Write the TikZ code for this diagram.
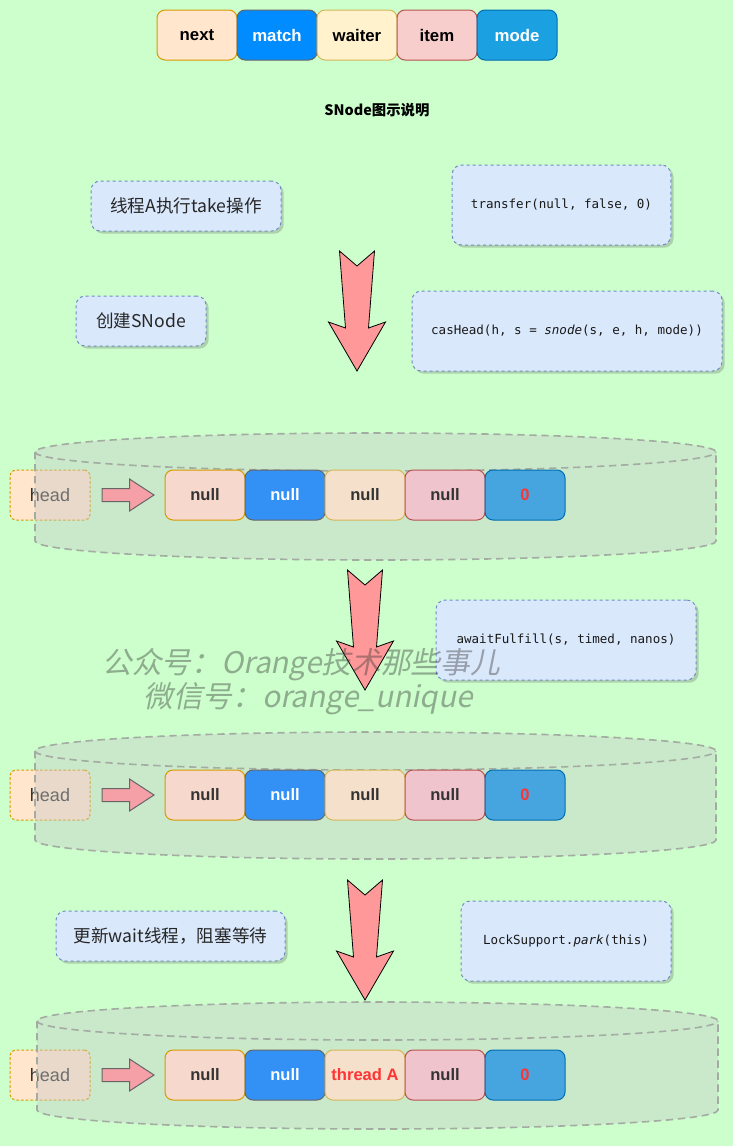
\documentclass[tikz,border=0pt]{standalone}
\usepackage{fontspec}
\setmainfont{Liberation Sans}
\newfontfamily\cjk{Noto Sans CJK SC}
\newfontfamily\cjkwm{Noto Sans CJK SC}[FakeSlant=0.2]
\newfontfamily\codefont{DejaVu Sans Mono}
\usetikzlibrary{shadows}
\definecolor{bg}{HTML}{CCFFCC}
\definecolor{nextF}{HTML}{FFE6CC}\definecolor{nextS}{HTML}{D79B00}
\definecolor{matchF}{HTML}{008CFF}\definecolor{matchS}{HTML}{666666}
\definecolor{waitF}{HTML}{FFF2CC}\definecolor{waitS}{HTML}{D6B656}
\definecolor{itemF}{HTML}{F8CECC}\definecolor{itemS}{HTML}{B85450}
\definecolor{modeF}{HTML}{1BA1E2}\definecolor{modeS}{HTML}{006EAF}
\definecolor{rnextF}{HTML}{F7D8CC}
\definecolor{rmatchF}{HTML}{3391F5}
\definecolor{rwaitF}{HTML}{F5E0CC}
\definecolor{ritemF}{HTML}{F0C4CC}
\definecolor{rmodeF}{HTML}{46A5DE}
\definecolor{infoF}{HTML}{DAE8FC}\definecolor{infoS}{HTML}{6C8EBF}
\definecolor{bigArr}{HTML}{FF9999}
\definecolor{smArr}{HTML}{F4A0A6}
\definecolor{cylS}{HTML}{A3ABA3}
\definecolor{txt}{HTML}{333333}
\definecolor{redtxt}{HTML}{FF3333}
\newcommand\fsz[1]{\fontsize{#1}{#1}\selectfont}
\tikzset{
  legendbox/.style={rounded corners=6pt, minimum width=60pt, minimum height=37.5pt, inner sep=0pt, line width=0.75pt, font=\fsz{12.6pt}\bfseries},
  rowbox/.style={rounded corners=6pt, minimum width=60pt, minimum height=37.5pt, inner sep=0pt, line width=0.75pt, font=\fsz{12.4pt}\bfseries, text=txt},
  headbox/.style={rounded corners=4pt, minimum width=60pt, minimum height=37.5pt, inner sep=0pt, fill=nextF, draw=nextS, line width=0.75pt, dash pattern=on 2pt off 1.5pt, text=txt, font=\fsz{13.5pt}},
  infobox/.style={rounded corners=7pt, fill=infoF, draw=infoS, line width=0.75pt, dash pattern=on 2.25pt off 2.25pt, inner sep=0pt, drop shadow={shadow xshift=2pt, shadow yshift=-2pt, opacity=0.3, fill=black!60}},
  cntext/.style={font=\cjk\fsz{13.2pt}, text=black!85},
  codetext/.style={font=\codefont\fsz{9.4pt}, text=black!90},
  bigarr/.style={fill=bigArr, draw=black, line width=0.6pt, line join=miter},
  smallarr/.style={fill=smArr, draw=black!60, line width=0.75pt},
  cylfill/.style={fill=black!22, fill opacity=0.4, draw=cylS, line width=1.2pt, dash pattern=on 5.5pt off 3.5pt},
  cylline/.style={draw=cylS, line width=1.2pt, dash pattern=on 5.5pt off 3.5pt},
  wm/.style={font=\cjkwm\fsz{22.3pt}, text=txt, text opacity=0.4, anchor=west, inner sep=0pt}
}
\newcommand\bigarrow[2]{%
  \draw[bigarr] ({#1-17.5},#2) -- (#1,{#2+15}) -- ({#1+17.5},#2) -- ({#1+11.5},{#2+77}) -- ({#1+28.5},{#2+71}) -- (#1,{#2+120}) -- ({#1-28.5},{#2+71}) -- ({#1-11.5},{#2+77}) -- cycle;}
\newcommand\smallarrow[1]{%
  \draw[smallarr] (102,{#1-6.5}) -- (129.5,{#1-6.5}) -- (129.5,{#1-16}) -- (154,#1) -- (129.5,{#1+16}) -- (129.5,{#1+6.5}) -- (102,{#1+6.5}) -- cycle;}
\newcommand\cylshape[4]{%
  \pgfmathsetmacro\rx{(#2-#1)/2}%
  \path[cylfill] (#1,#3) -- (#1,#4) arc[start angle=180,end angle=0,x radius=\rx,y radius=19] -- (#2,#3) arc[start angle=0,end angle=-180,x radius=\rx,y radius=19] -- cycle;
  \draw[cylline] (#1,#3) arc[start angle=180,end angle=0,x radius=\rx,y radius=19];}
\newcommand\noderow[5]{%
  \node[rowbox, fill=rnextF, draw=nextS] (#1next) at (205,#2) {null};
  \node[rowbox, fill=rmatchF, draw=matchS, text=white] (#1match) at (285,#2) {null};
  \node[rowbox, fill=rwaitF, draw=waitS, text=#4] (#1wait) at (365,#2) {#3};
  \node[rowbox, fill=ritemF, draw=itemS] (#1item) at (445,#2) {null};
  \node[rowbox, fill=rmodeF, draw=modeS, text=redtxt] (#1mode) at (525,#2) {0};
  \draw[cylline, opacity=0.45] (#5);}
\begin{document}
\begin{tikzpicture}[x=0.75pt,y=-0.75pt]
\fill[bg] (0,0) rectangle (733,1146);
\useasboundingbox (0,0) rectangle (733,1146);

% legend
\node[legendbox, fill=nextF, draw=nextS] (lnext) at (197,35) {next};
\node[legendbox, fill=matchF, draw=matchS, text=white] (lmatch) at (277,35) {match};
\node[legendbox, fill=waitF, draw=waitS] (lwait) at (357,35) {waiter};
\node[legendbox, fill=itemF, draw=itemS] (litem) at (437,35) {item};
\node[legendbox, fill=modeF, draw=modeS, text=white] (lmode) at (517,35) {mode};
\node[font=\cjk\bfseries\fsz{10.8pt}] (title) at (377,110) {SNode图示说明};

% step 1
\node[infobox, minimum width=142.5pt, minimum height=37.5pt, cntext] (takebox) at (186,206) {线程A执行take操作};
\node[infobox, minimum width=164pt, minimum height=60pt, codetext] (transfer) at (561.5,205) {transfer(null, false, 0)};
\node[infobox, minimum width=97.5pt, minimum height=37.5pt, cntext] (create) at (141,321) {创建SNode};
\node[infobox, minimum width=232.5pt, minimum height=60pt, codetext] (cashead) at (567,331) {casHead(h, s = \textit{snode}(s, e, h, mode))};
\bigarrow{357}{251}

% row 1
\node[headbox] (head1) at (50,495) {head};
\cylshape{35}{716}{452}{541}
\smallarrow{495}
\noderow{a}{495}{null}{txt}{35,452}

% step 2
\bigarrow{365}{570}
\node[infobox, minimum width=195pt, minimum height=60pt, codetext] (await) at (566,640) {awaitFulfill(s, timed, nanos)};

% row 2
\node[headbox] (head2) at (50,795) {head};
\cylshape{35}{716}{751}{840}
\smallarrow{795}
\noderow{b}{795}{null}{txt}{35,751}

% step 3
\bigarrow{365}{880}
\node[infobox, minimum width=171.75pt, minimum height=37.5pt, cntext] (update) at (170.5,936) {更新wait线程，阻塞等待};
\node[infobox, minimum width=157.5pt, minimum height=60pt, codetext] (park) at (566,941) {LockSupport.\textit{park}(this)};

% row 3
\node[headbox] (head3) at (50,1075) {head};
\cylshape{37}{718}{1021}{1110}
\smallarrow{1075}
\noderow{c}{1075}{thread A}{redtxt}{37,1021}

% watermark
\node[wm] (wm1) at (102,665) {公众号：Orange技术那些事儿};
\node[wm] (wm2) at (143,699) {微信号：orange\_unique};
\end{tikzpicture}
\end{document}
